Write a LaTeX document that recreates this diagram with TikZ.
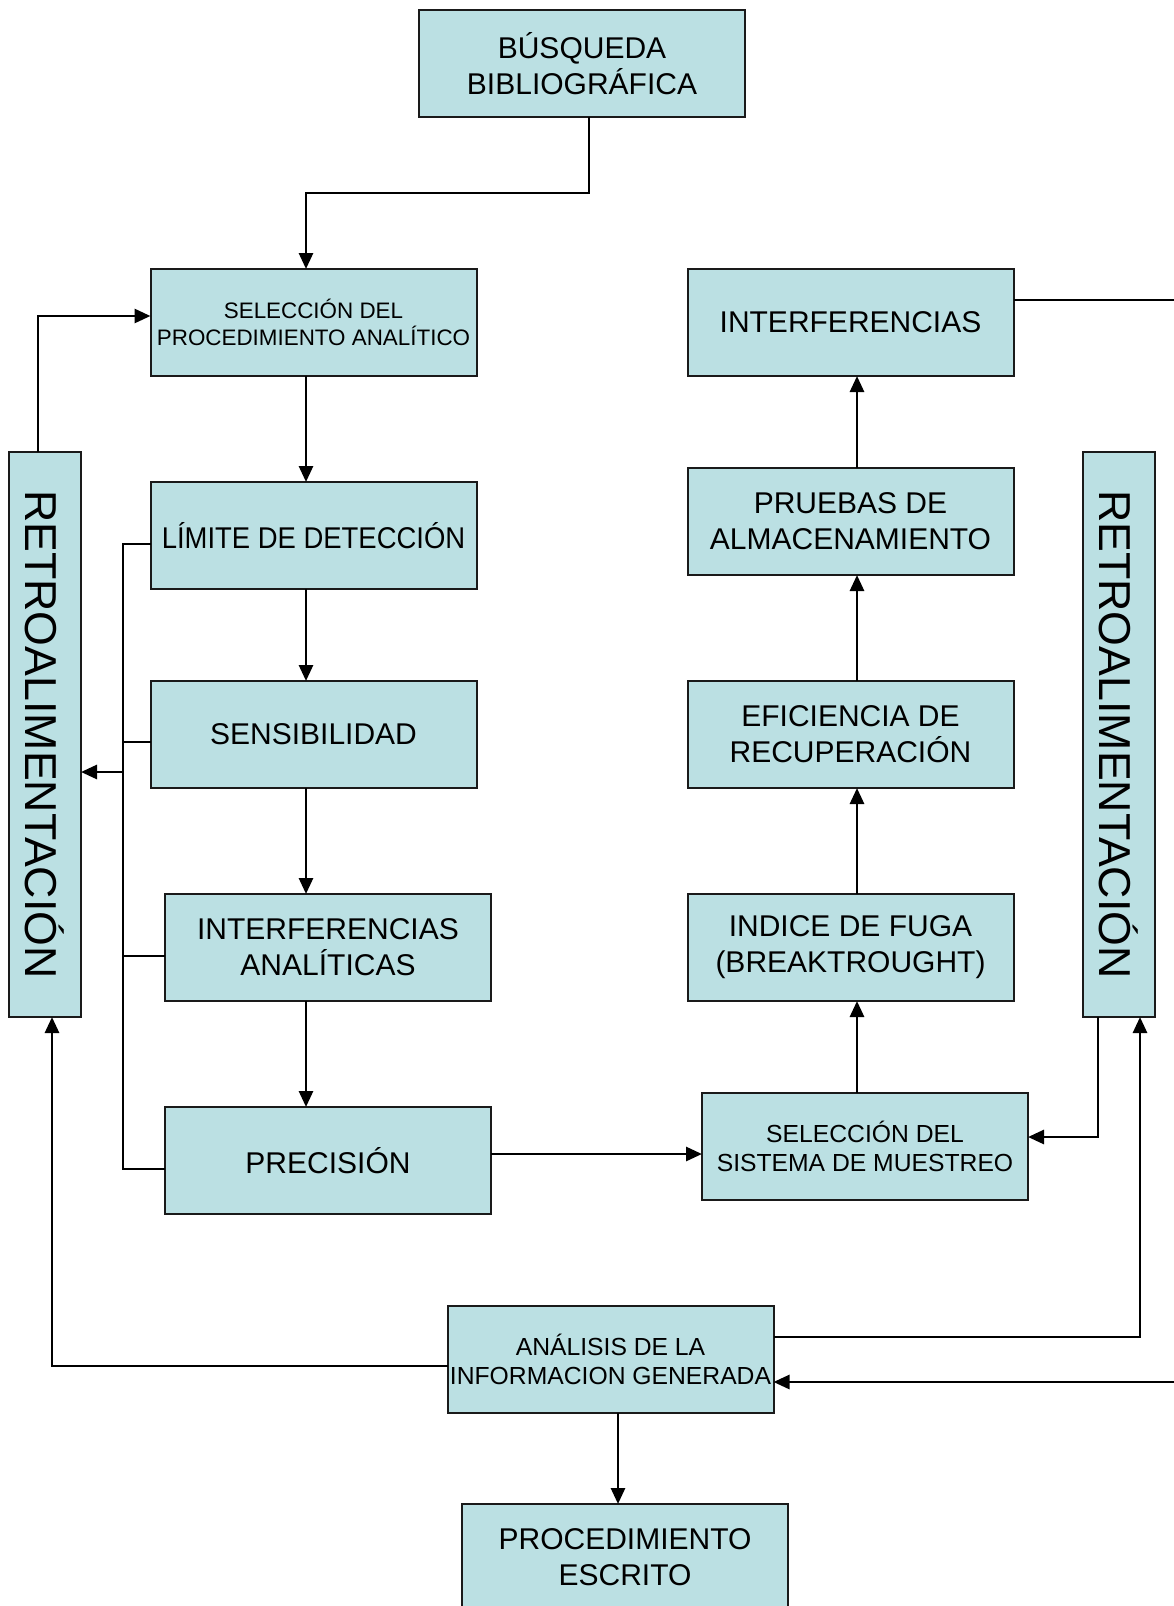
\documentclass[tikz,border=0pt]{standalone}
\usepackage{fontspec}
\setmainfont{Liberation Sans}
\usepackage{xcolor}
\definecolor{boxFill}{HTML}{BBE0E3}
\definecolor{boxLine}{HTML}{1A1A1A}
\usetikzlibrary{arrows.meta, positioning, calc}

\begin{document}
\begin{tikzpicture}[
    x=1pt, y=1pt,
    procbox/.style={draw=boxLine, fill=boxFill, rectangle, line width=2pt, align=center, inner sep=2pt, outer sep=0pt, font=\fontsize{30}{36}\selectfont, minimum width=326pt, minimum height=107pt},
    smallbox/.style={procbox, font=\fontsize{22.4}{27.6}\selectfont},
    midbox/.style={procbox, font=\fontsize{24.7}{29.7}\selectfont},
    retrobox/.style={draw=boxLine, fill=boxFill, rectangle, line width=2pt, inner sep=0pt, outer sep=0pt, font=\fontsize{44.7}{50}\selectfont, minimum width=72pt, minimum height=565pt},
    arrow/.style={-{Triangle[length=16pt,width=14pt]}, line width=2.8pt},
    link/.style={line width=2.8pt}
]
\useasboundingbox (0,0) rectangle (1174,-1606);

\node (busq) [procbox] at (582,-63.5) {BÚSQUEDA\\BIBLIOGRÁFICA};

% left column
\node (selproc) [smallbox] at (313.5,-322.5) {SELECCIÓN DEL\\PROCEDIMIENTO ANALÍTICO};
\node (limite) [procbox, below=106pt of selproc] {\scalebox{0.915}[1]{LÍMITE DE DETECCIÓN}};
\node (sensib) [procbox, below=92pt of limite] {SENSIBILIDAD};
\node (interfan) [procbox, below=106pt of sensib, xshift=14.5pt] {INTERFERENCIAS\\ANALÍTICAS};
\node (precis) [procbox, below=106pt of interfan] {PRECISIÓN};

% right column
\node (interf) [procbox, right=211pt of selproc] {INTERFERENCIAS};
\node (pruebas) [procbox, below=92pt of interf] {PRUEBAS DE\\ALMACENAMIENTO};
\node (eficien) [procbox, below=106pt of pruebas] {EFICIENCIA DE\\RECUPERACIÓN};
\node (indice) [procbox, below=106pt of eficien] {INDICE DE FUGA\\(BREAKTROUGHT)};
\node (selsis) [midbox, below=92pt of indice, xshift=14.5pt] {SELECCIÓN DEL\\SISTEMA DE MUESTREO};

\node (analisis) [midbox] at (610.5,-1359.5) {ANÁLISIS DE LA\\INFORMACION GENERADA};
\node (procesc) [procbox, below=91pt of analisis, xshift=14.5pt] {PROCEDIMIENTO\\ESCRITO};

% feedback bars
\node (retroL) [retrobox] at (45,-734.5) {\rotatebox{-90}{RETROALIMENTACIÓN}};
\node (retroR) [retrobox] at (1119,-734.5) {\rotatebox{-90}{RETROALIMENTACIÓN}};

\coordinate (trunk) at (306,-193);
\coordinate (bus) at (123,0);
\coordinate (busout) at (123,-772);
\coordinate (colR) at (857,0);
\coordinate (edgeTop) at (1174,-300);
\coordinate (edgeBot) at (1174,-1382);

\draw [arrow] ([xshift=7pt]busq.south) |- (trunk) -- (trunk |- selproc.north);
\draw [arrow] (selproc.south -| trunk) -- (limite.north -| trunk);
\draw [arrow] (limite.south -| trunk) -- (sensib.north -| trunk);
\draw [arrow] (sensib.south -| trunk) -- (interfan.north -| trunk);
\draw [arrow] (interfan.south -| trunk) -- (precis.north -| trunk);

% collector into left feedback
\draw [link] ([yshift=-8.5pt]limite.west) -| ([yshift=-8.5pt]precis.west -| bus) -- ([yshift=-8.5pt]precis.west);
\draw [link] ([yshift=-7.5pt]sensib.west) -- ([yshift=-7.5pt]sensib.west -| bus);
\draw [link] ([yshift=-8.5pt]interfan.west) -- ([yshift=-8.5pt]interfan.west -| bus);
\draw [arrow] (busout) -- (busout -| retroL.east);
\draw [arrow] ([xshift=-7pt]retroL.north) |- ([yshift=6.5pt]selproc.west);

\draw [arrow] ([yshift=6.5pt]precis.east) -- ([yshift=6.5pt]precis.east -| selsis.west);

\draw [arrow] (selsis.north -| colR) -- (indice.south -| colR);
\draw [arrow] (indice.north -| colR) -- (eficien.south -| colR);
\draw [arrow] (eficien.north -| colR) -- (pruebas.south -| colR);
\draw [arrow] (pruebas.north -| colR) -- (interf.south -| colR);

% right feedback loop
\draw [arrow] ([xshift=-21pt]retroR.south) |- ([yshift=9.5pt]selsis.east);
\draw [arrow] ([yshift=22.5pt]analisis.east) -| ([xshift=21pt]retroR.south);
\draw [link] ([yshift=22.5pt]interf.east) -- (edgeTop);
\draw [arrow] (edgeBot) -- (edgeBot -| analisis.east);

\draw [arrow] ([yshift=-6.5pt]analisis.west) -| ([xshift=7pt]retroL.south);
\draw [arrow] ([xshift=7.5pt]analisis.south) -- ([xshift=7.5pt]analisis.south |- procesc.north);

\end{tikzpicture}
\end{document}
